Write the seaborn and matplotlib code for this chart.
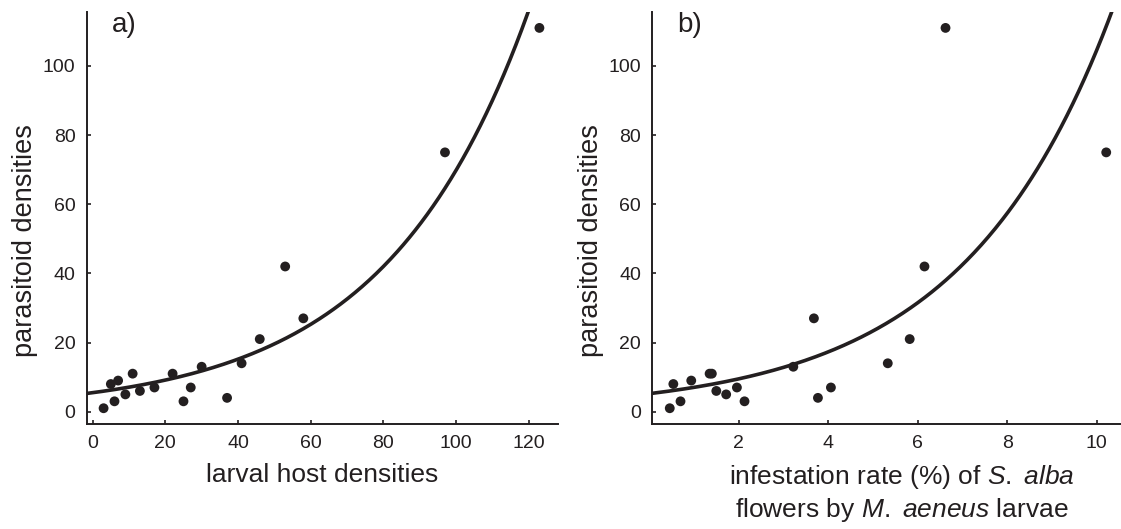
import numpy as np
import pandas as pd
import matplotlib
matplotlib.use("Agg")
import matplotlib.pyplot as plt
import seaborn as sns

# ---- data ----
host_density = [3, 5, 7, 6, 9, 11, 13, 17, 22, 25, 27, 30, 37, 41, 46, 53, 58, 97, 123]
parasitoid_a = [1, 8, 9, 3, 5, 11, 6, 7, 11, 3, 7, 13, 4, 14, 21, 42, 27, 75, 111]

infestation_rate = [0.46, 0.54, 0.70, 0.94, 1.35, 1.40, 1.50, 1.72, 1.96, 2.13,
                    3.22, 3.68, 3.77, 4.06, 5.33, 5.82, 6.15, 6.62, 10.21]
parasitoid_b = [1, 8, 3, 9, 11, 11, 6, 5, 7, 3, 13, 27, 4, 7, 14, 21, 42, 111, 75]

# fitted exponential curves y = a * exp(b * x)
fit_a = (5.5, 0.0254)
fit_b = (5.21, 0.300)

xticks_a = [0, 20, 40, 60, 80, 100, 120]
xticks_b = [2, 4, 6, 8, 10]
yticks = [0, 20, 40, 60, 80, 100]

sns.set_style("ticks")
plt.rcParams['font.family'] = ['Liberation Sans', 'DejaVu Sans']
plt.rcParams['mathtext.fontset'] = 'custom'
plt.rcParams['mathtext.rm'] = 'Liberation Sans'
plt.rcParams['mathtext.it'] = 'Liberation Sans:italic'
ink = '#231f20'

W, H = 1121, 529
fig = plt.figure(figsize=(W / 100, H / 100), dpi=100)
fig.patch.set_facecolor('white')

bottom = (H - 424) / H
height = (424 - 12) / H
ax1 = fig.add_axes([86.7 / W, bottom, (558.3 - 86.7) / W, height])
ax2 = fig.add_axes([652.3 / W, bottom, (1121 - 652.3) / W, height])


def draw(ax, x, y, fit, xlim, xticks, xlabel, panel, xlabel_x):
    df = pd.DataFrame({'x': x, 'y': y})
    xs = np.linspace(xlim[0], xlim[1], 400)
    curve = pd.DataFrame({'x': xs, 'y': fit[0] * np.exp(fit[1] * xs)})
    sns.lineplot(data=curve, x='x', y='y', ax=ax, color=ink, linewidth=2.6,
                 estimator=None, sort=False)
    sns.scatterplot(data=df, x='x', y='y', ax=ax, color=ink, s=50,
                    edgecolor='none', linewidth=0, clip_on=False, zorder=3)
    ax.set_xlim(*xlim)
    ax.set_ylim(-3.56, 115.6)
    ax.set_xticks(xticks)
    ax.set_yticks(yticks)
    for s in ['top', 'right']:
        ax.spines[s].set_visible(False)
    for s in ['left', 'bottom']:
        ax.spines[s].set_linewidth(1.4)
        ax.spines[s].set_color(ink)
    ax.tick_params(direction='in', length=3.2, width=1.2, colors=ink,
                   labelsize=14, pad=8)
    ax.set_ylabel('parasitoid densities', fontsize=19.5, color=ink)
    ax.yaxis.set_label_coords(-0.104, 0.445)
    ax.set_xlabel(xlabel, fontsize=19, color=ink, labelpad=8,
                  linespacing=1.25)
    ax.xaxis.label.set_x(xlabel_x)
    ax.text(0.054, 1.0, panel, transform=ax.transAxes, fontsize=20,
            color=ink, va='top', ha='left')


draw(ax1, host_density, parasitoid_a, fit_a, (-1.65, 128.2), xticks_a,
     'larval host densities', 'a)', 0.5)
draw(ax2, infestation_rate, parasitoid_b, fit_b, (0.07, 10.54), xticks_b,
     'infestation rate (%) of $\\mathit{S.}$ $\\mathit{alba}$\n'
     'flowers by $\\mathit{M.}$ $\\mathit{aeneus}$ larvae',
     'b)', 0.533)

fig.savefig('out.png', dpi=100, facecolor='white')
